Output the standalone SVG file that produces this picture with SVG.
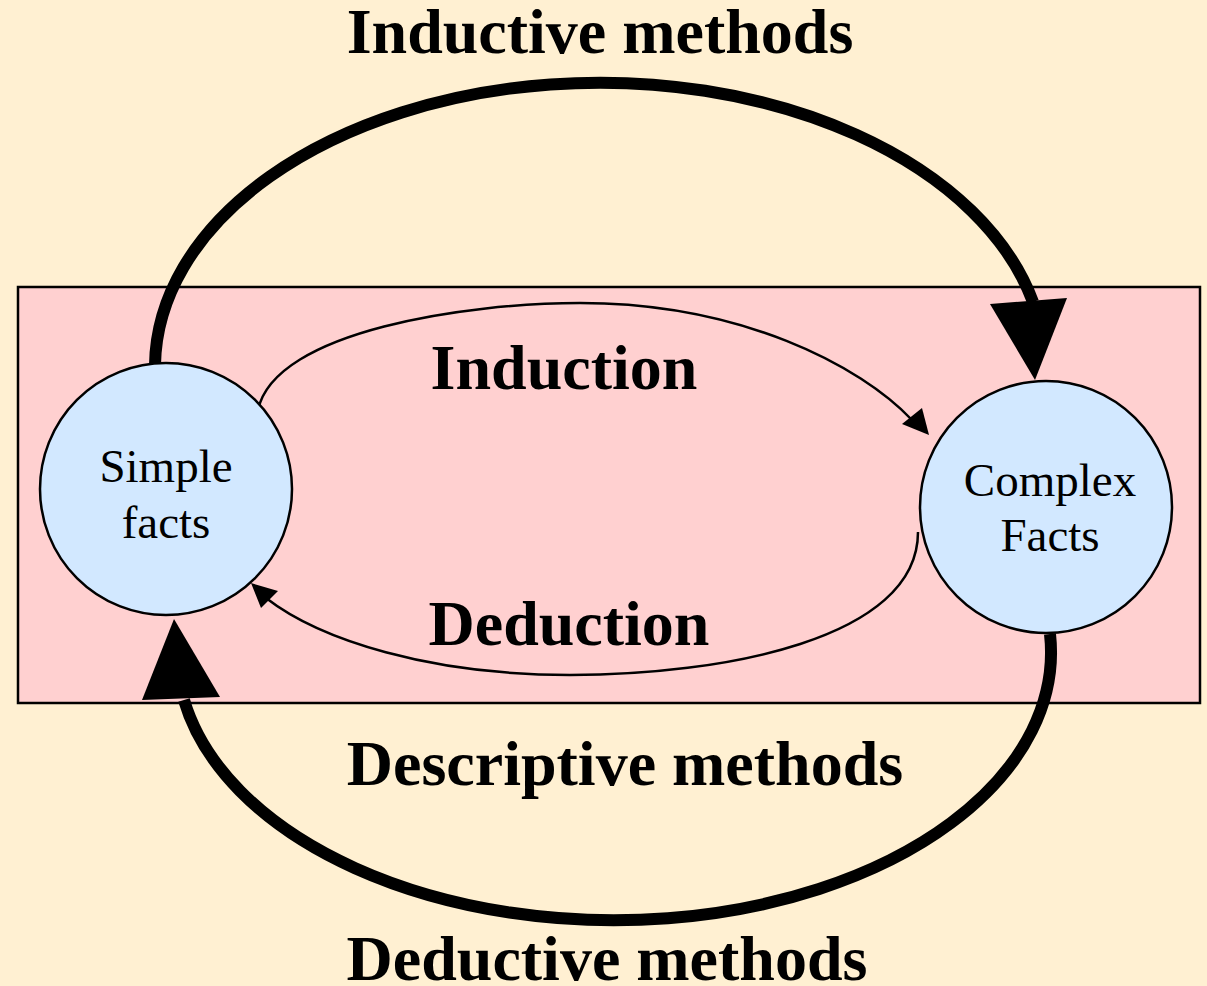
<svg xmlns="http://www.w3.org/2000/svg" width="1207" height="986" viewBox="0 0 1207 986">
<style>
.big{font-family:"Liberation Serif","Times New Roman",serif;font-weight:bold;font-size:64px;text-anchor:middle;fill:#000}
.node{font-family:"Liberation Serif","Times New Roman",serif;font-size:47px;text-anchor:middle;fill:#000}
.circ{fill:#D2E8FF;stroke:#000;stroke-width:2.5}
.thick{fill:none;stroke:#000;stroke-width:12}
.thin{fill:none;stroke:#000;stroke-width:2.5}
</style>
<rect x="0" y="0" width="1207" height="986" fill="#FFF0D2"/>
<g id="frame"><rect x="18" y="287" width="1182" height="416" fill="#FFD0D0" stroke="#000" stroke-width="2.5"/></g>
<g id="connectors">
<path class="thick" d="M155,365 A445,285 0 0 1 1033,302"/>
<polygon points="990,304 1067,298 1035,380" fill="#000"/>
<path class="thick" d="M1050,634 A437,268 0 0 1 184,700"/>
<polygon points="142,700 220,697 174,619" fill="#000"/>
<path class="thin" d="M258,410 C275,330 470,303 580,303 C740,303 860,365 912,420"/>
<polygon points="902,424 922,408 929,435" fill="#000"/>
<path class="thin" d="M918,532 C918,640 720,675 570,675 C430,675 320,640 266,598"/>
<polygon points="251,583 278,591 261,608" fill="#000"/>
</g>
<g id="simple"><circle class="circ" cx="166" cy="489" r="126"/><text class="node" x="166" y="482">Simple</text><text class="node" x="166" y="538">facts</text></g>
<g id="complex"><circle class="circ" cx="1046" cy="507" r="126"/><text class="node" x="1050" y="496">Complex</text><text class="node" x="1050" y="551">Facts</text></g>
<g id="labels">
<text class="big" x="600" y="53">Inductive methods</text>
<text class="big" x="564" y="389">Induction</text>
<text class="big" x="569" y="645">Deduction</text>
<text class="big" x="625" y="785">Descriptive methods</text>
<text class="big" x="607" y="980">Deductive methods</text>
</g>
</svg>
